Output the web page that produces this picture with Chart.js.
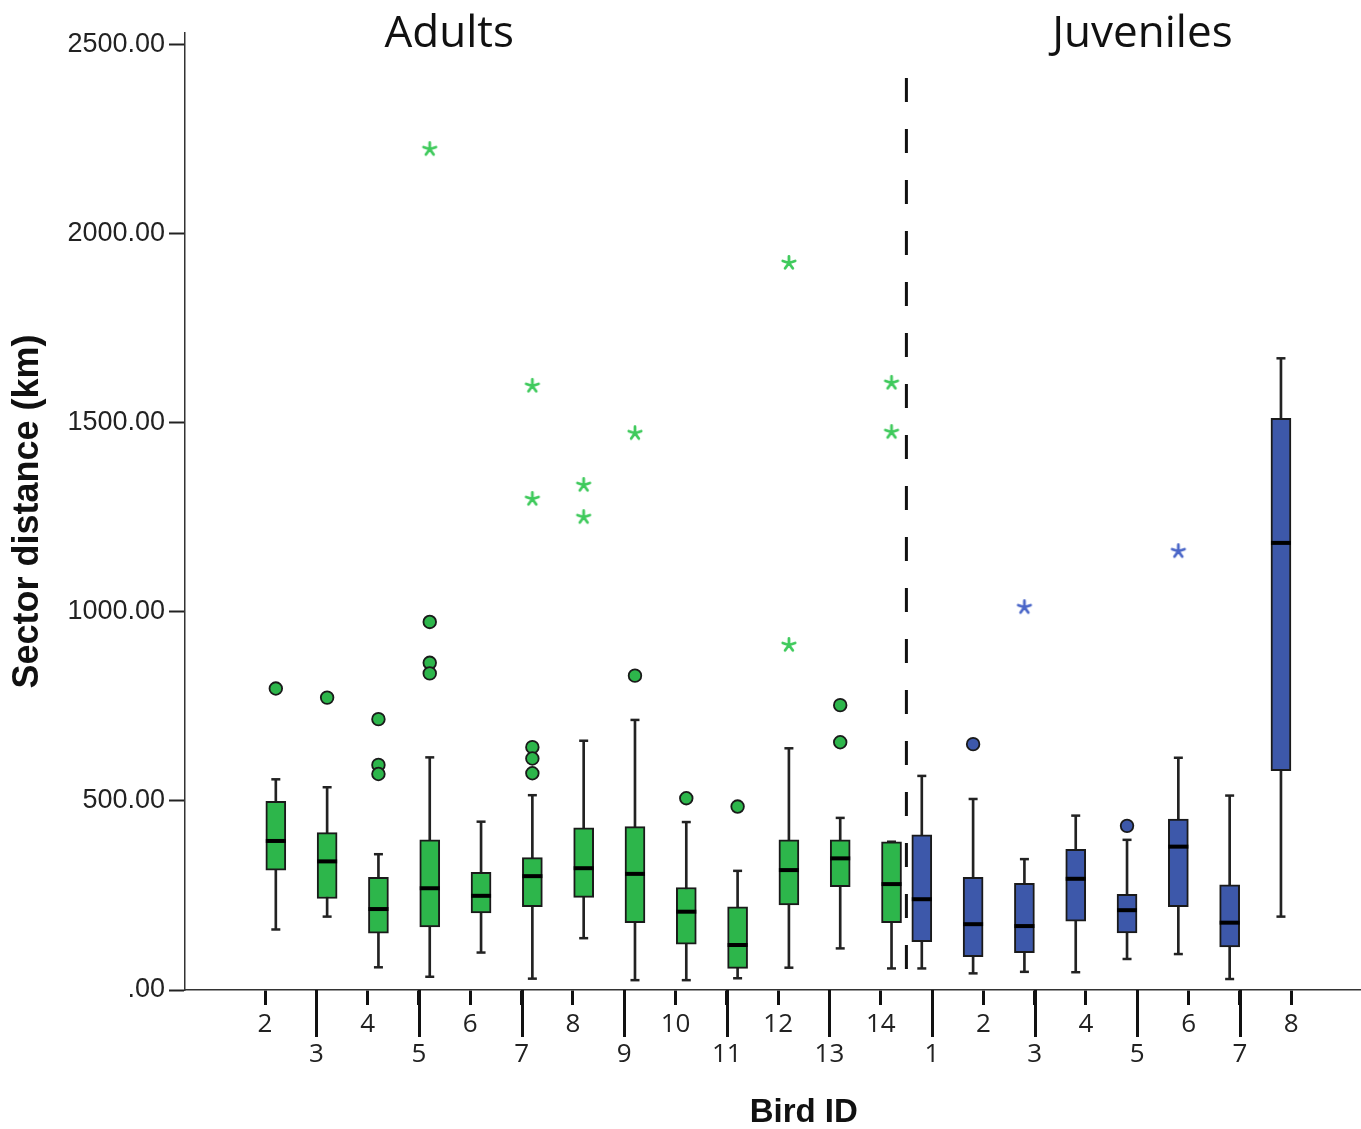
<!DOCTYPE html>
<html>
<head>
<meta charset="utf-8">
<title>Sector distance by bird</title>
<script src="https://cdn.jsdelivr.net/npm/chart.js@4.4.1/dist/chart.umd.min.js"></script>
<style>
    html, body { margin: 0; padding: 0; background: #fff; overflow: hidden; }
    #boxChart { display: block; }
</style>
</head>
<body>
<canvas id="boxChart" width="1361" height="1129"></canvas>
<script>
// bird ids (x axis)
const adultIds = ['2', '3', '4', '5', '6', '7', '8', '9', '10', '11', '12', '13', '14'];
const juvenileIds = ['1', '2', '3', '4', '5', '6', '7', '8'];

// adults: whisker ends, quartiles, median (km)
const adultLow    = [160, 194,  60,  35,  99,  30, 137,  26,  26,  31,  59, 110,  57];
const adultQ1     = [317, 242, 150, 167, 204, 220, 245, 178, 121,  57, 225, 273, 178];
const adultMedian = [394, 340, 214, 269, 249, 301, 322, 307, 207, 119, 317, 348, 280];
const adultQ3     = [499, 416, 298, 397, 311, 350, 429, 432, 271, 220, 397, 397, 392];
const adultHigh   = [557, 536, 359, 615, 445, 515, 659, 714, 444, 315, 639, 455, 392];
const adultOutliers = [[797], [773], [716, 595, 571], [973, 865, 837], [], [642, 612, 573], [], [831], [507], [485], [], [753, 655], []];
const adultExtremes = [[], [], [], [2223], [], [1597, 1298], [1335, 1250], [1472], [], [], [1922, 912], [], [1605, 1475]];

// juveniles
const juvLow    = [ 57,  44,  48,  47,  82,  95,  29,  194];
const juvQ1     = [128,  88,  99, 182, 151, 220, 114,  580];
const juvMedian = [240, 174, 169, 294, 211, 379, 178, 1182];
const juvQ3     = [410, 298, 282, 372, 253, 452, 278, 1511];
const juvHigh   = [566, 505, 346, 461, 397, 614, 514, 1670];
const juvOutliers = [[], [650], [], [], [434], [], [], []];
const juvExtremes = [[], [], [1012], [], [], [1160], [], []];

// y axis ticks
const yTicks = [0, 500, 1000, 1500, 2000, 2500];

const allIds = adultIds.concat(juvenileIds);
const GREEN = '#2db64b';
const BLUE = '#3d58aa';
const GREEN_STAR = '#3fca5c';
const BLUE_STAR = '#4a66c8';

// boxes sit a bit off their tick, adults to the right and juveniles to the left
const adultPos = adultIds.map((_, i) => i + 0.21);
const juvPos = juvenileIds.map((_, j) => adultIds.length + j - 0.2);
const dividerX = adultIds.length - 0.5;

function rangePoints(pos, lo, hi) {
    return pos.map((x, i) => ({ x: x, y: [lo[i], hi[i]] }));
}
function valuePoints(pos, vals) {
    return pos.map((x, i) => ({ x: x, y: vals[i] }));
}
function listPoints(pos, lists) {
    const pts = [];
    lists.forEach((list, i) => list.forEach(v => pts.push({ x: pos[i], y: v })));
    return pts;
}

function makeStar(color) {
    const c = document.createElement('canvas');
    c.width = 18;
    c.height = 18;
    const g = c.getContext('2d');
    g.strokeStyle = color;
    g.lineWidth = 2.8;
    g.lineCap = 'round';
    g.beginPath();
    for (let k = 0; k < 5; k++) {
        const a = -Math.PI / 2 + k * 2 * Math.PI / 5;
        g.moveTo(9, 9);
        g.lineTo(9 + 6.5 * Math.cos(a), 9 + 6.5 * Math.sin(a));
    }
    g.stroke();
    return c;
}

const allPos = adultPos.concat(juvPos);
const allLow = adultLow.concat(juvLow);
const allHigh = adultHigh.concat(juvHigh);

// long ticks under the second label row, group headings, axis title
const decorPlugin = {
    id: 'decor',
    afterDraw(chart) {
        const ctx = chart.ctx;
        const xs = chart.scales.x;
        const bottom = chart.chartArea.bottom;
        ctx.save();
        ctx.strokeStyle = '#111';
        ctx.lineWidth = 3;
        allIds.forEach((id, i) => {
            if (i % 2 === 1) {
                const px = Math.round(xs.getPixelForValue(i)) + 0.5;
                ctx.beginPath();
                ctx.moveTo(px, bottom);
                ctx.lineTo(px, bottom + 47);
                ctx.stroke();
            }
        });
        ctx.fillStyle = '#111';
        ctx.textAlign = 'center';
        ctx.textBaseline = 'alphabetic';
        ctx.font = '44px "Open Sans"';
        ctx.fillText('Adults', xs.getPixelForValue(3.59), 47);
        ctx.fillText('Juveniles', xs.getPixelForValue(17.1), 47);
        ctx.font = 'bold 33px "Liberation Sans"';
        ctx.fillText('Bird ID', xs.getPixelForValue(10.5), 1122);
        ctx.restore();
    }
};

const ctx = document.getElementById('boxChart');

new Chart(ctx, {
    type: 'bar',
    data: {
        datasets: [
            {
                // vertical whisker lines
                type: 'bar',
                data: rangePoints(allPos, allLow, allHigh),
                backgroundColor: '#222',
                borderWidth: 0,
                barThickness: 2,
                grouped: false,
                order: 6
            },
            {
                type: 'bar',
                data: rangePoints(adultPos, adultQ1, adultQ3),
                backgroundColor: GREEN,
                borderColor: '#1a1a1a',
                borderWidth: 2,
                borderSkipped: false,
                barThickness: 20,
                grouped: false,
                order: 3
            },
            {
                type: 'bar',
                data: rangePoints(juvPos, juvQ1, juvQ3),
                backgroundColor: BLUE,
                borderColor: '#1a1a1a',
                borderWidth: 2,
                borderSkipped: false,
                barThickness: 20,
                grouped: false,
                order: 3
            },
            {
                // whisker caps
                type: 'scatter',
                data: valuePoints(allPos, allLow).concat(valuePoints(allPos, allHigh)),
                pointStyle: 'line',
                pointRadius: 4.5,
                borderColor: '#222',
                borderWidth: 2.5,
                order: 5
            },
            {
                // medians
                type: 'scatter',
                data: valuePoints(adultPos, adultMedian).concat(valuePoints(juvPos, juvMedian)),
                pointStyle: 'line',
                pointRadius: 10,
                borderColor: '#000',
                borderWidth: 4,
                order: 1
            },
            {
                type: 'scatter',
                data: listPoints(adultPos, adultOutliers),
                pointStyle: 'circle',
                pointRadius: 6.3,
                backgroundColor: GREEN,
                borderColor: '#1a1a1a',
                borderWidth: 1.8,
                order: 0
            },
            {
                type: 'scatter',
                data: listPoints(juvPos, juvOutliers),
                pointStyle: 'circle',
                pointRadius: 6.3,
                backgroundColor: BLUE,
                borderColor: '#1a1a1a',
                borderWidth: 1.8,
                order: 0
            },
            {
                type: 'scatter',
                data: listPoints(adultPos, adultExtremes),
                pointStyle: makeStar(GREEN_STAR),
                order: 0
            },
            {
                type: 'scatter',
                data: listPoints(juvPos, juvExtremes),
                pointStyle: makeStar(BLUE_STAR),
                order: 0
            },
            {
                // adults / juveniles divider
                type: 'line',
                data: [{ x: dividerX, y: 2411 }, { x: dividerX, y: 0 }],
                borderColor: '#111',
                borderWidth: 3,
                borderDash: [24, 27],
                pointRadius: 0,
                fill: false,
                order: 4
            }
        ]
    },
    options: {
        responsive: false,
        maintainAspectRatio: false,
        devicePixelRatio: 1,
        animation: false,
        events: [],
        // no auto padding from the point sizes, the x axis runs to the right edge
        layout: { autoPadding: false, padding: { top: 33, left: 0, right: 0, bottom: 0 } },
        plugins: {
            legend: { display: false },
            tooltip: { enabled: false },
            title: { display: false }
        },
        scales: {
            x: {
                type: 'linear',
                min: -1.56,
                max: 21.36,
                offset: false,
                afterBuildTicks: function(scale) {
                    scale.ticks = allIds.map((_, i) => ({ value: i }));
                },
                afterFit: function(scale) {
                    scale.height = 139;
                },
                ticks: {
                    autoSkip: false,
                    maxRotation: 0,
                    padding: 5,
                    color: '#222',
                    font: { family: 'Open Sans', size: 26, lineHeight: 1.15 },
                    callback: function(value, index) {
                        const id = allIds[index];
                        return index % 2 === 0 ? id : ['', id];
                    }
                },
                grid: {
                    offset: false,
                    drawOnChartArea: false,
                    drawTicks: true,
                    tickLength: 15,
                    tickWidth: 3,
                    tickColor: '#111'
                },
                border: { display: true, color: '#333', width: 1.5 }
            },
            y: {
                min: 0,
                max: 2530,
                afterBuildTicks: function(scale) {
                    scale.ticks = yTicks.map(v => ({ value: v }));
                },
                afterFit: function(scale) {
                    scale.width = 185;
                },
                ticks: {
                    padding: 4,
                    color: '#222',
                    font: { family: 'Liberation Sans', size: 27 },
                    callback: function(value) {
                        return value === 0 ? '.00' : value.toFixed(2);
                    }
                },
                grid: {
                    drawOnChartArea: false,
                    drawTicks: true,
                    tickLength: 16,
                    tickWidth: 2,
                    tickColor: '#222'
                },
                border: { display: true, color: '#333', width: 1.5 },
                title: {
                    display: true,
                    text: 'Sector distance (km)',
                    color: '#111',
                    font: { family: 'Liberation Sans', size: 36, weight: 'bold' },
                    padding: { top: 6, bottom: 0 }
                }
            }
        }
    },
    plugins: [decorPlugin]
});
</script>
</body>
</html>
